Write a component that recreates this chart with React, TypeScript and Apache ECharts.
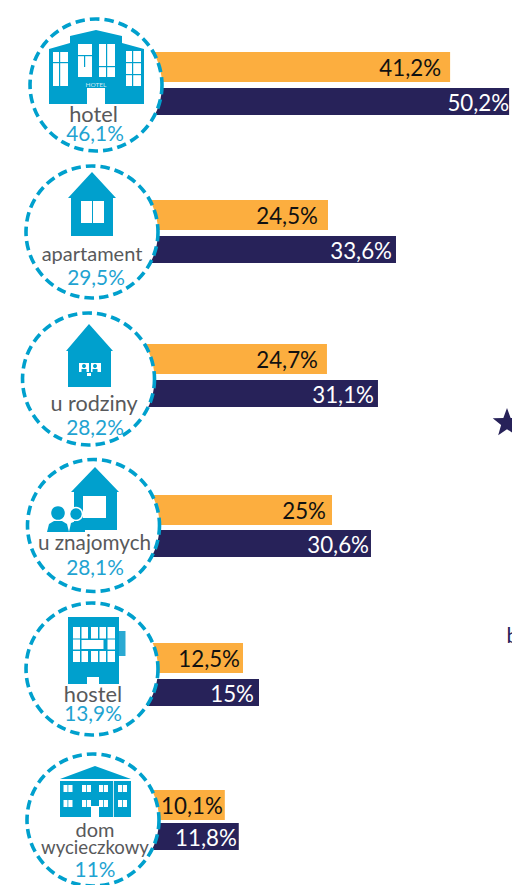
import React, { useEffect, useRef } from "react";
import * as echarts from "echarts";

const categories = ["hotel", "apartament", "u rodziny", "u znajomych", "hostel", "dom", "wycieczkowy"];
const shareValues = [46.1, 29.5, 28.2, 28.1, 13.9, 11];
const orangeValues = [41.2, 24.5, 24.7, 25, 12.5, 10.1];
const navyValues = [50.2, 33.6, 31.1, 30.6, 15, 11.8];

const ORANGE = "#fcae3f";
const NAVY = "#272259";
const BLUE = "#00a0cd";
const PCT = "#1fa3d1";
const GREY = "#58595b";
const FONT = "Lato, Carlito, sans-serif";
const START_X = 135;

// layout per row: bar band, scale, label insets, circle and label positions
const rows = [
  { top: 52, bottom: 115, origin: 180, ppp: 6.556, inO: 9, inN: 0, cx: 96, cy: 85, lx: 93.5, ly: 113, lf: 21.8, px: 95, py: 132 },
  { top: 200, bottom: 263, origin: 144.9, ppp: 7.473, inO: 10, inN: 4, cx: 92, cy: 232, lx: 92, ly: 253, lf: 20, px: 96, py: 276 },
  { top: 344, bottom: 407, origin: 130.1, ppp: 7.97, inO: 9, inN: 4, cx: 88.5, cy: 379, lx: 94, ly: 403, lf: 21.6, px: 95, py: 426 },
  { top: 495, bottom: 557, origin: 158, ppp: 6.96, inO: 6, inN: 2, cx: 93.5, cy: 525.5, lx: 94.5, ly: 542, lf: 20.7, px: 95, py: 566 },
  { top: 643, bottom: 706, origin: 163, ppp: 6.4, inO: 3, inN: 5, cx: 92, cy: 669, lx: 93, ly: 693, lf: 21.8, px: 93, py: 712 },
  { top: 790, bottom: 850, origin: 142, ppp: 8.2, inO: 2, inN: 2, cx: 93, cy: 820, lx: 95, ly: 829, lf: 20, px: 95, py: 868 },
];

const fmt = (v: number) => String(v).replace(".", ",") + "%";

const rect = (x: number, y: number, w: number, h: number, fill = "#fff", z = 12) => ({
  type: "rect",
  z,
  shape: { x, y, width: w, height: h },
  style: { fill },
});
const poly = (points: number[][], fill = BLUE, z = 11) => ({
  type: "polygon",
  z,
  shape: { points },
  style: { fill },
});
const circle = (cx: number, cy: number, r: number, fill = BLUE, z = 12, stroke?: string) => ({
  type: "circle",
  z,
  shape: { cx, cy, r },
  style: { fill, stroke: stroke || undefined, lineWidth: stroke ? 1.5 : 0 },
});
const text = (t: string, x: number, y: number, size: number, fill: string, z = 13) => ({
  type: "text",
  z,
  x,
  y,
  style: { text: t, align: "center", verticalAlign: "middle", fontFamily: FONT, fontSize: size, fill },
});

function icons(): any[] {
  const out: any[] = [];
  // hotel
  out.push(poly([[49, 104], [49, 49], [70, 43], [70, 36], [96, 30], [122, 36], [122, 43], [144, 49], [144, 104]]));
  out.push(rect(53, 52, 15, 34), rect(78, 44, 14, 33), rect(99, 44, 16, 33), rect(126, 51, 15, 35), rect(87, 88, 18, 16));
  out.push(rect(59, 52, 1.2, 34, BLUE, 13), rect(53, 62, 15, 1.2, BLUE, 13));
  out.push(rect(84, 56, 1.2, 11, BLUE, 13), rect(78, 55, 14, 1.2, BLUE, 13));
  out.push(rect(106, 44, 1.2, 33, BLUE, 13), rect(99, 66, 16, 1.2, BLUE, 13));
  out.push(rect(132, 51, 1.2, 35, BLUE, 13), rect(126, 62, 15, 1.2, BLUE, 13), rect(126, 74, 15, 1.2, BLUE, 13));
  out.push(text("HOTEL", 96, 84.5, 6.5, "#cfeaf4"));
  // apartament
  out.push(poly([[92, 172], [116, 198], [113, 198], [113, 236], [71, 236], [71, 198], [68, 198]]));
  out.push(rect(81, 201, 23, 22), rect(92, 201, 1, 22, BLUE, 13));
  // u rodziny
  out.push(poly([[89, 324], [113, 351], [111, 351], [111, 387], [68, 387], [68, 351], [66, 351]]));
  out.push(rect(79, 363, 10, 9), rect(91, 363, 10, 9), circle(84, 366, 2, BLUE, 13), circle(95, 366, 2, BLUE, 13));
  out.push(rect(81.5, 369, 5, 3, BLUE, 13), rect(92.5, 369, 5, 3, BLUE, 13), rect(87, 373, 4, 3));
  // u znajomych
  out.push(poly([[95, 467], [119, 492], [117, 492], [117, 530], [74, 530], [74, 492], [71, 492]]));
  out.push(rect(83, 496, 23, 22));
  out.push(circle(76, 514, 6.5, BLUE, 14, "#fff"));
  out.push(poly([[69, 532], [71, 523], [76, 521], [82, 522], [85, 527], [85, 532]], BLUE, 14));
  out.push(circle(58, 513, 6.8, BLUE, 15));
  out.push(poly([[47, 532], [49, 524], [54, 521], [62, 521], [67, 524], [69, 532]], BLUE, 15));
  // hostel
  out.push(rect(68, 617, 51, 67, BLUE, 11), rect(119, 631, 6.5, 25, "#2aa9d2", 11));
  for (const [x, w] of [[73, 7], [81.5, 6.5], [91, 7], [99.5, 6.5], [107.5, 7.5]]) {
    out.push(rect(x, 627, w, 11.5), rect(x, 651, w, 11));
  }
  out.push(rect(73, 639.5, 7, 10), rect(81.5, 640, 22, 9), rect(107.5, 639.5, 7.5, 10));
  out.push(rect(87, 677, 12, 7));
  // dom wycieczkowy
  out.push(poly([[95, 766], [131, 779], [60, 779]]));
  out.push(rect(60, 781, 71, 36, BLUE, 11));
  for (const x of [63.5, 82, 99, 118]) {
    for (const y of [785, 800]) out.push(rect(x, y, 9, 7), rect(x + 4, y, 0.8, 7, BLUE, 13));
  }
  out.push(rect(91, 806, 8, 11), rect(113, 781, 0.8, 36));
  return out;
}

function buildOption() {
  const grid: any[] = [];
  const xAxis: any[] = [];
  const yAxis: any[] = [];
  const series: any[] = [];
  rows.forEach((r, i) => {
    grid.push({ left: START_X, top: r.top, width: 512 - START_X, height: r.bottom - r.top });
    xAxis.push({
      gridIndex: i,
      type: "value",
      show: false,
      scale: true,
      min: (START_X - r.origin) / r.ppp,
      max: (512 - r.origin) / r.ppp,
    });
    yAxis.push({ gridIndex: i, type: "category", show: false, inverse: true, data: ["a", "b"] });
    series.push({
      type: "custom",
      name: categories[i],
      xAxisIndex: i,
      yAxisIndex: i,
      clip: false,
      z: 2,
      data: [
        [orangeValues[i], 0],
        [navyValues[i], 1],
      ],
      encode: { x: 0, y: 1 },
      renderItem: (_p: any, api: any) => {
        const v = api.value(0);
        const k = api.value(1);
        const [xEnd, yc] = api.coord([v, k]);
        const band = api.size([0, 1])[1];
        const h = k === 0 ? 30 : 27;
        const y = k === 0 ? yc - band / 2 : yc + band / 2 - h;
        return {
          type: "group",
          children: [
            {
              type: "rect",
              shape: { x: START_X, y, width: xEnd - START_X, height: h },
              style: { fill: k === 0 ? ORANGE : NAVY },
            },
            {
              type: "text",
              x: xEnd - (k === 0 ? r.inO : r.inN),
              y: y + h / 2 + 0.5,
              style: {
                text: fmt(v),
                align: "right",
                verticalAlign: "middle",
                fontFamily: FONT,
                fontSize: 22.3,
                fill: k === 0 ? "#111111" : "#ffffff",
              },
            },
          ],
        };
      },
    });
  });

  const elements: any[] = [];
  rows.forEach((r, i) => {
    elements.push({
      type: "circle",
      z: 10,
      shape: { cx: r.cx, cy: r.cy, r: 66 },
      style: { fill: "#fff", stroke: BLUE, lineWidth: 3.6, lineDash: [9.5, 5] },
    });
    elements.push(text(categories[i], r.lx, r.ly, r.lf, GREY));
    elements.push(text(fmt(shareValues[i]), r.px, r.py, 20.8, PCT));
  });
  elements.push(text(categories[6], 95, 847, 18.6, GREY));
  elements.push(...icons());
  // fragments cut off at the right edge of the picture
  const star: number[][] = [];
  for (let a = 0; a < 10; a++) {
    const rr = a % 2 === 0 ? 15 : 6.2;
    const t = (-90 + a * 36) * (Math.PI / 180);
    star.push([507 + rr * Math.cos(t), 423 + rr * Math.sin(t)]);
  }
  elements.push(poly(star, NAVY, 5));
  elements.push({
    type: "text",
    z: 5,
    x: 506.5,
    y: 634,
    style: { text: "b", align: "left", verticalAlign: "middle", fontFamily: FONT, fontSize: 21, fill: NAVY },
  });

  return {
    animation: false,
    backgroundColor: "#ffffff",
    tooltip: { show: false },
    grid,
    xAxis,
    yAxis,
    series,
    graphic: { elements },
  };
}

export default function App() {
  const ref = useRef<HTMLDivElement>(null);
  useEffect(() => {
    document.body.style.margin = "0";
    const chart = echarts.init(ref.current!, undefined, { renderer: "svg" });
    chart.setOption(buildOption() as any);
    return () => chart.dispose();
  }, []);
  return <div ref={ref} style={{ width: 512, height: 885, overflow: "hidden" }} />;
}
